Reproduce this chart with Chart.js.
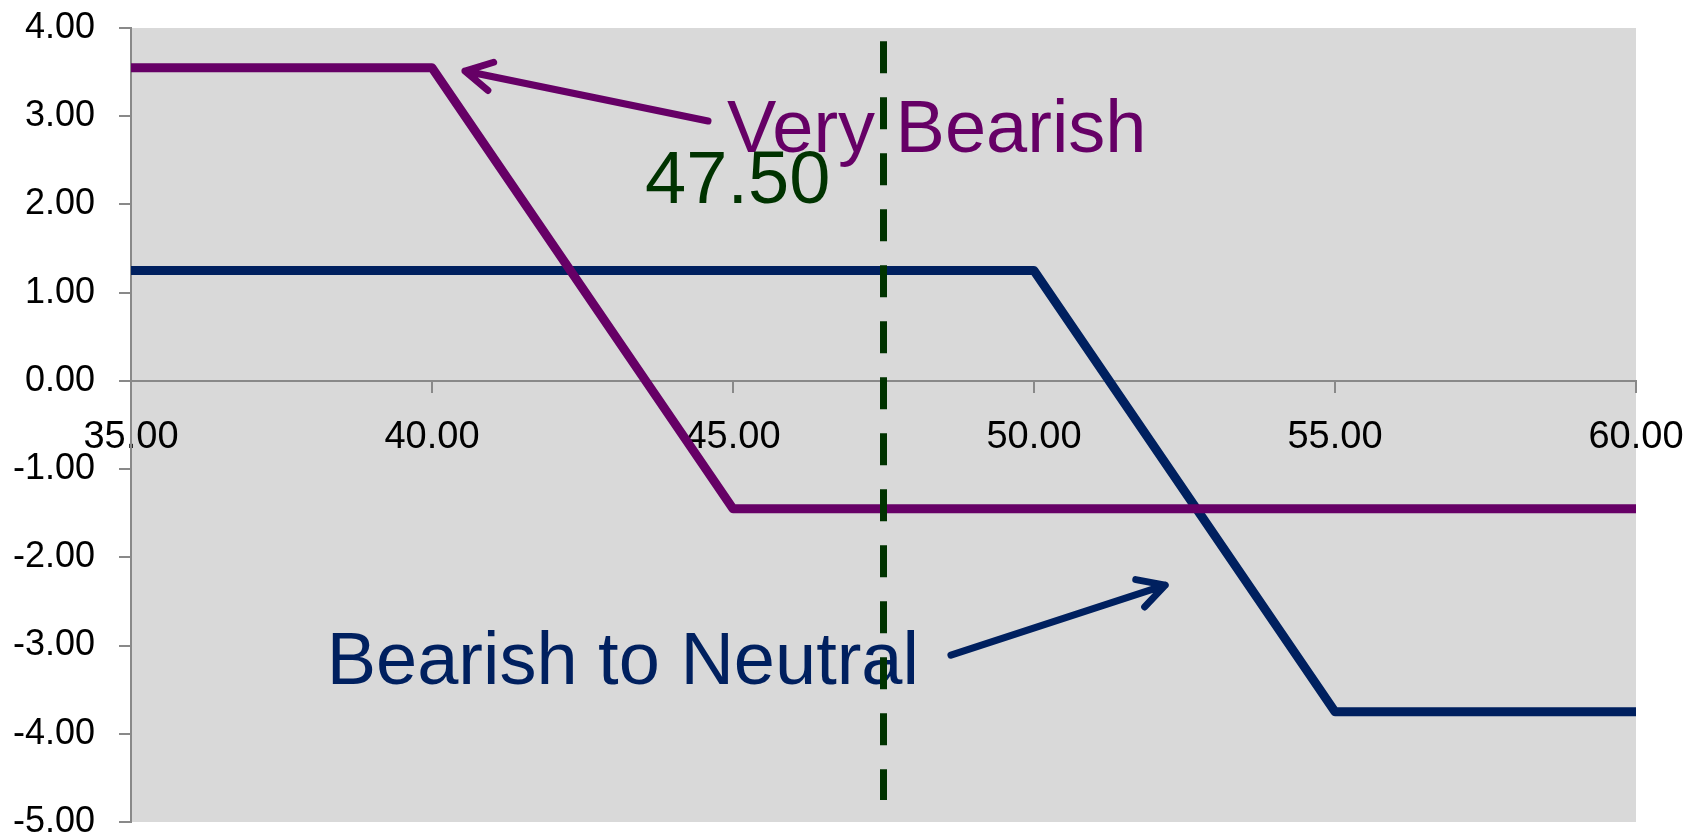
<!DOCTYPE html>
<html>
<head>
<meta charset="utf-8">
<title>Bear put spreads</title>
<script src="https://cdn.jsdelivr.net/npm/chart.js@4.4.1/dist/chart.umd.min.js"></script>
<style>
  html, body { margin: 0; padding: 0; background: #fff; }
  #wrap { width: 1695px; height: 838px; }
</style>
</head>
<body>
<div id="wrap"><canvas id="myChart"></canvas></div>
<script>
// strike prices on the x axis
const strikes = [35, 40, 45, 50, 55, 60];
// profit / loss at expiry for each spread
const veryBearish = [3.55, 3.55, -1.45, -1.45, -1.45, -1.45];
const bearishNeutral = [1.25, 1.25, 1.25, 1.25, -3.75, -3.75];
// current stock price marker
const spotPrice = 47.50;
const spotRange = [3.85, -4.75];

const yTicks = [4, 3, 2, 1, 0, -1, -2, -3, -4, -5];
const xTicks = [35, 40, 45, 50, 55, 60];

const purple = '#660066';
const navy = '#00205f';
const green = '#003300';
const axisGrey = '#898989';

Chart.defaults.font.family = '"Liberation Sans", Arial, sans-serif';
Chart.defaults.font.size = 36;
Chart.defaults.color = '#000';

function toPoints(xs, ys) {
    return xs.map((x, i) => ({ x: x, y: ys[i] }));
}

const spotLine = spotRange.map(v => ({ x: spotPrice, y: v }));

// grey plot background
const plotBg = {
    id: 'plotBg',
    beforeDraw(chart) {
        const a = chart.chartArea;
        const ctx = chart.ctx;
        ctx.save();
        ctx.fillStyle = '#d9d9d9';
        ctx.fillRect(a.left, a.top, a.right - a.left, a.bottom - a.top);
        ctx.restore();
    }
};

function arrow(ctx, x0, y0, x1, y1, color, width) {
    const ang = Math.atan2(y1 - y0, x1 - x0);
    const len = 30;
    const spread = 0.5;
    ctx.save();
    ctx.strokeStyle = color;
    ctx.lineWidth = width;
    ctx.lineCap = 'round';
    ctx.lineJoin = 'round';
    ctx.beginPath();
    ctx.moveTo(x0, y0);
    ctx.lineTo(x1, y1);
    ctx.moveTo(x1 - len * Math.cos(ang - spread), y1 - len * Math.sin(ang - spread));
    ctx.lineTo(x1, y1);
    ctx.lineTo(x1 - len * Math.cos(ang + spread), y1 - len * Math.sin(ang + spread));
    ctx.stroke();
    ctx.restore();
}

// callout labels and arrows, placed in data coordinates
const callouts = {
    id: 'callouts',
    beforeDatasetsDraw(chart) {
        const ctx = chart.ctx;
        const xs = chart.scales.x;
        const ys = chart.scales.y;
        const px = v => xs.getPixelForValue(v);
        const py = v => ys.getPixelForValue(v);

        ctx.save();
        ctx.font = '74px "Liberation Sans", Arial, sans-serif';
        ctx.textAlign = 'left';
        ctx.textBaseline = 'alphabetic';

        ctx.fillStyle = purple;
        ctx.fillText('Very Bearish', px(44.90), py(2.594));

        ctx.fillStyle = green;
        ctx.fillText(spotPrice.toFixed(2), px(43.54), py(2.016));

        ctx.fillStyle = navy;
        ctx.fillText('Bearish to Neutral', px(38.25), py(-3.438));
        ctx.restore();

        arrow(ctx, px(44.585), py(2.946), px(40.548), py(3.512), purple, 7);
        arrow(ctx, px(48.62), py(-3.109), px(52.18), py(-2.315), navy, 7);
    }
};

const data = {
    datasets: [
        {
            label: 'Spot',
            data: spotLine,
            borderColor: green,
            borderWidth: 7,
            borderDash: [32, 24],
            borderCapStyle: 'butt',
            pointRadius: 0,
            order: 0
        },
        {
            label: 'Very Bearish',
            data: toPoints(strikes, veryBearish),
            borderColor: purple,
            borderWidth: 9,
            borderCapStyle: 'round',
            borderJoinStyle: 'round',
            pointRadius: 0,
            order: 1
        },
        {
            label: 'Bearish to Neutral',
            data: toPoints(strikes, bearishNeutral),
            borderColor: navy,
            borderWidth: 9,
            borderCapStyle: 'round',
            borderJoinStyle: 'round',
            pointRadius: 0,
            order: 2
        }
    ]
};

const config = {
    type: 'line',
    data: data,
    options: {
        responsive: true,
        maintainAspectRatio: false,
        animation: false,
        layout: { padding: { top: 28, right: 59, bottom: 16, left: 0 } },
        plugins: {
            legend: { display: false },
            tooltip: { enabled: false }
        },
        scales: {
            x: {
                type: 'linear',
                position: { y: 0 },
                min: 35,
                max: 60,
                afterFit(s) {
                    s.height = 0;
                    s.paddingLeft = 0;
                    s.paddingRight = 0;
                },
                afterBuildTicks(s) { s.ticks = xTicks.map(v => ({ value: v })); },
                border: { display: true, color: axisGrey, width: 2 },
                grid: { drawOnChartArea: false, drawTicks: true, tickLength: 11, color: axisGrey, lineWidth: 2 },
                ticks: {
                    padding: 23,
                    maxRotation: 0,
                    autoSkip: false,
                    font: { size: 38 },
                    callback: v => Number(v).toFixed(2)
                }
            },
            y: {
                min: -5,
                max: 4,
                afterFit(s) {
                    s.width = 131;
                    s.paddingTop = 0;
                    s.paddingBottom = 0;
                },
                afterBuildTicks(s) { s.ticks = yTicks.map(v => ({ value: v })); },
                border: { display: true, color: axisGrey, width: 2 },
                grid: { drawOnChartArea: false, drawTicks: true, tickLength: 12, color: axisGrey, lineWidth: 2 },
                ticks: {
                    padding: 24,
                    autoSkip: false,
                    callback: v => Number(v).toFixed(2)
                }
            }
        }
    },
    plugins: [plotBg, callouts]
};

const myChart = new Chart(document.getElementById('myChart'), config);
</script>
</body>
</html>
